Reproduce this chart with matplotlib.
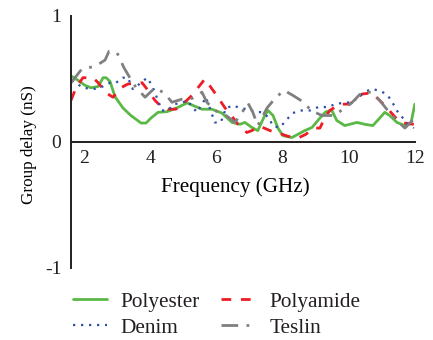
import matplotlib
matplotlib.use("Agg")
import matplotlib.pyplot as plt

# frequency (GHz) / group delay (nS) per fabric
f_polyester = [1.63, 1.81, 2.02, 2.20, 2.42, 2.57, 2.66, 2.78, 2.93, 3.17, 3.41, 3.72,
               3.87, 4.02, 4.23, 4.50, 4.80, 5.11, 5.29, 5.56, 5.86, 6.16, 6.47, 6.71,
               6.86, 7.07, 7.25, 7.46, 7.56, 7.71, 7.86, 8.01, 8.28, 8.46, 8.67, 8.89,
               9.13, 9.31, 9.49, 9.64, 9.88, 10.25, 10.49, 10.73, 10.94, 11.09, 11.24,
               11.46, 11.70, 11.88, 12.0]
d_polyester = [0.52, 0.49, 0.45, 0.43, 0.44, 0.51, 0.51, 0.48, 0.36, 0.27, 0.21, 0.15,
               0.15, 0.19, 0.235, 0.24, 0.27, 0.31, 0.29, 0.26, 0.26, 0.23, 0.155, 0.14,
               0.155, 0.115, 0.09, 0.21, 0.25, 0.21, 0.11, 0.05, 0.035, 0.06, 0.09, 0.115,
               0.19, 0.24, 0.25, 0.17, 0.13, 0.155, 0.14, 0.13, 0.19, 0.235, 0.21,
               0.155, 0.13, 0.145, 0.30]

f_polyamide = [1.60, 1.75, 1.96, 2.27, 2.42, 2.66, 2.87, 3.11, 3.32, 3.75, 3.87, 4.14,
               4.29, 4.53, 4.77, 5.02, 5.26, 5.65, 5.95, 6.04, 6.26, 6.38, 6.65, 6.92,
               7.07, 7.31, 7.62, 7.89, 8.16, 8.46, 8.70, 8.95, 9.13, 9.28, 9.43, 9.73,
               10.03, 10.40, 10.70, 11.09, 11.55, 11.97]
d_polyamide = [0.33, 0.43, 0.51, 0.51, 0.47, 0.39, 0.355, 0.43, 0.46, 0.47, 0.43, 0.33,
               0.29, 0.26, 0.26, 0.31, 0.37, 0.50, 0.39, 0.355, 0.27, 0.235, 0.14, 0.075,
               0.09, 0.125, 0.09, 0.07, 0.045, 0.03, 0.06, 0.11, 0.11, 0.195, 0.25, 0.30,
               0.30, 0.38, 0.39, 0.29, 0.155, 0.14]

f_denim = [1.63, 1.96, 2.27, 2.48, 2.78, 2.96, 3.17, 3.32, 3.47, 3.72, 3.90, 4.05,
           4.20, 4.35, 4.53, 4.71, 4.96, 5.11, 5.41, 5.59, 5.68, 5.77, 5.95, 6.13,
           6.29, 6.53, 6.68, 6.92, 7.19, 7.40, 7.59, 7.71, 7.92, 8.10, 8.31, 8.58,
           8.86, 9.10, 9.37, 9.58, 9.82, 10.09, 10.28, 10.49, 10.73, 11.00, 11.18,
           11.33, 11.49, 11.64, 11.79, 11.97]
d_denim = [0.49, 0.43, 0.42, 0.43, 0.47, 0.47, 0.51, 0.51, 0.42, 0.47, 0.51, 0.45,
           0.35, 0.25, 0.25, 0.30, 0.31, 0.33, 0.235, 0.31, 0.355, 0.29, 0.155, 0.155,
           0.27, 0.29, 0.27, 0.26, 0.24, 0.235, 0.19, 0.125, 0.115, 0.17, 0.23, 0.25,
           0.25, 0.28, 0.275, 0.30, 0.31, 0.315, 0.35, 0.40, 0.42, 0.40, 0.37,
           0.31, 0.235, 0.19, 0.145, 0.11]

f_teslin = [1.60, 1.93, 2.33, 2.63, 2.75, 2.99, 3.20, 3.38, 3.56, 3.84, 4.14, 4.44,
            4.65, 4.96, 5.26, 5.56, 5.71, 5.95, 6.29, 6.56, 6.80, 6.95, 7.10, 7.25,
            7.53, 7.77, 8.04, 8.31, 8.64, 8.86, 9.19, 9.58, 9.82, 10.09, 10.40, 10.70,
            10.94, 11.18, 11.46, 11.70, 12.0]
d_teslin = [0.47, 0.58, 0.60, 0.65, 0.72, 0.71, 0.59, 0.51, 0.435, 0.355, 0.43, 0.385,
            0.315, 0.34, 0.345, 0.395, 0.315, 0.25, 0.21, 0.155, 0.245, 0.31, 0.235, 0.13,
            0.27, 0.345, 0.41, 0.37, 0.315, 0.25, 0.21, 0.21, 0.26, 0.31, 0.395, 0.395,
            0.33, 0.25, 0.17, 0.11, 0.19]

x_ticks = [2, 4, 6, 8, 10, 12]
y_ticks = [-1, 0, 1]

plt.rcParams["font.family"] = ["Liberation Serif", "DejaVu Serif"]
plt.rcParams["font.size"] = 14
plt.rcParams["text.color"] = "#231f20"
plt.rcParams["axes.unicode_minus"] = False

fig = plt.figure(figsize=(4.33, 3.40), dpi=100)
ax = fig.add_axes([0.164, 0.212, 0.794, 0.741])

l_pe, = ax.plot(f_polyester, d_polyester, color="#5ab946", lw=2.0,
                solid_capstyle="round", label="Polyester")
l_pa, = ax.plot(f_polyamide, d_polyamide, color="#ee1c25", lw=2.0, dashes=(3.5, 3.5),
                label="Polyamide")
l_de, = ax.plot(f_denim, d_denim, color="#2e4fa8", lw=1.6, dashes=(1, 2.6),
                label="Denim")
l_te, = ax.plot(f_teslin, d_teslin, color="#808080", lw=2.0, dashes=(6, 3, 1, 3),
                label="Teslin")

ax.set_xlim(1.6, 12)
ax.set_ylim(-1, 1)
ax.set_xticks(x_ticks)
ax.set_yticks(y_ticks)

ax.spines["bottom"].set_position(("data", 0))
ax.spines["top"].set_visible(False)
ax.spines["right"].set_visible(False)
for s in ("left", "bottom"):
    ax.spines[s].set_linewidth(1.4)
    ax.spines[s].set_color("#231f20")
ax.tick_params(length=0, colors="#231f20", labelsize=14)
ax.tick_params(axis="x", pad=6)
ax.tick_params(axis="y", pad=7)

ax.set_xlabel("Frequency (GHz)", fontsize=15.2)
ax.xaxis.set_label_coords(0.477, 0.36)
ax.set_ylabel("Group delay (nS)", fontsize=12.3)
ax.yaxis.set_label_coords(-0.10, 0.49)

# two rows: Polyester / Polyamide, then Denim / Teslin (legend fills by column)
fig.legend([l_pe, l_de, l_pa, l_te], ["Polyester", "Denim", "Polyamide", "Teslin"],
           loc="center", bbox_to_anchor=(0.5, 0.074), ncol=2, frameon=False,
           fontsize=15.3, handlelength=1.6, handletextpad=0.65, columnspacing=1.0,
           labelspacing=0.3)

fig.savefig("out.png", dpi=100, facecolor="white")
plt.close(fig)
